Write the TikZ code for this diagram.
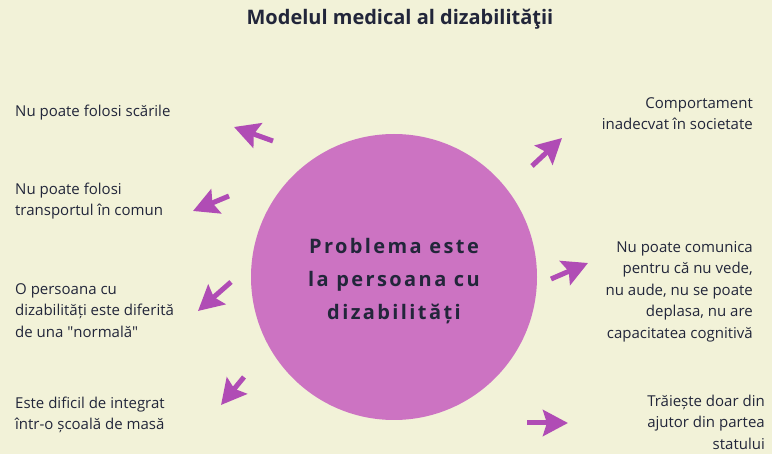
\documentclass[tikz,border=0pt]{standalone}
\usepackage{fontspec}
\setmainfont{Open Sans}
\usetikzlibrary{positioning,arrows.meta}
\definecolor{bgcream}{HTML}{F2F2D8}
\definecolor{blobpink}{HTML}{CC73C2}
\definecolor{arrpurple}{HTML}{B04CB5}
\definecolor{inkblue}{HTML}{22263A}

\begin{document}
\begin{tikzpicture}[x=1pt, y=-1pt,
	lefttext/.style={anchor=north west, inner sep=0pt, align=left, text=inkblue, font=\fontsize{15}{21.5}\selectfont},
	righttext/.style={anchor=north east, inner sep=0pt, align=right, text=inkblue, font=\fontsize{15}{21.5}\selectfont},
	fatarrow/.style={draw=arrpurple, line width=5pt, -{Stealth[length=25pt, width=26pt, inset=4pt]}}]
				\fill[bgcream] (0,0) rectangle (772,454);
				\useasboundingbox (0,0) rectangle (772,454);
				\node[anchor=base, text=inkblue, font=\fontsize{20}{22}\selectfont\bfseries] (title) at (400,25) {Modelul medical al dizabilităţii};
				\node[circle, fill=blobpink, minimum size=286pt, inner sep=0pt, align=center, text=inkblue,
					font=\fontsize{20}{33}\selectfont\bfseries\addfontfeatures{LetterSpace=12}] (blob) at (394,277)
					{\strut Problema este\\la persoana cu\\dizabilități};
				% stanga
				\node[lefttext] (scari) at (15,101) {\strut Nu poate folosi scările};
				\node[lefttext] (transport) at (15,179) {\strut Nu poate folosi\\transportul în comun};
				\node[lefttext] (diferita) at (15,279) {\strut O persoana cu\\dizabilități este diferită\\de una \textquotedbl normală\textquotedbl};
				\node[lefttext] (scoala) at (15,393) {\strut Este dificil de integrat\\într-o școală de masă};
				% dreapta
				\node[righttext] (comport) at (753,93) {\strut Comportament\\inadecvat în societate};
				\node[righttext] (comunica) at (753,237) {\strut Nu poate comunica\\pentru că nu vede,\\nu aude, nu se poate\\deplasa, nu are\\capacitatea cognitivă};
				\node[righttext] (ajutor) at (765,391) {\strut Trăiește doar din\\ajutor din partea\\statului};
				% sageti
				\coordinate (a1s) at (273,141); \coordinate (a1e) at (234,127);
				\coordinate (a2s) at (229,196); \coordinate (a2e) at (193,211);
				\coordinate (a3s) at (231,282); \coordinate (a3e) at (198,311);
				\coordinate (a4s) at (244,377); \coordinate (a4e) at (221,405);
				\coordinate (a5s) at (532,166); \coordinate (a5e) at (562,138);
				\coordinate (a6s) at (551,279); \coordinate (a6e) at (588,263);
				\coordinate (a7s) at (527,423); \coordinate (a7e) at (568,423);
				\draw[fatarrow] (a1s) -- (a1e);
				\draw[fatarrow] (a2s) -- (a2e);
				\draw[fatarrow] (a3s) -- (a3e);
				\draw[fatarrow] (a4s) -- (a4e);
				\draw[fatarrow] (a5s) -- (a5e);
				\draw[fatarrow] (a6s) -- (a6e);
				\draw[fatarrow] (a7s) -- (a7e);
			\end{tikzpicture}
\end{document}
